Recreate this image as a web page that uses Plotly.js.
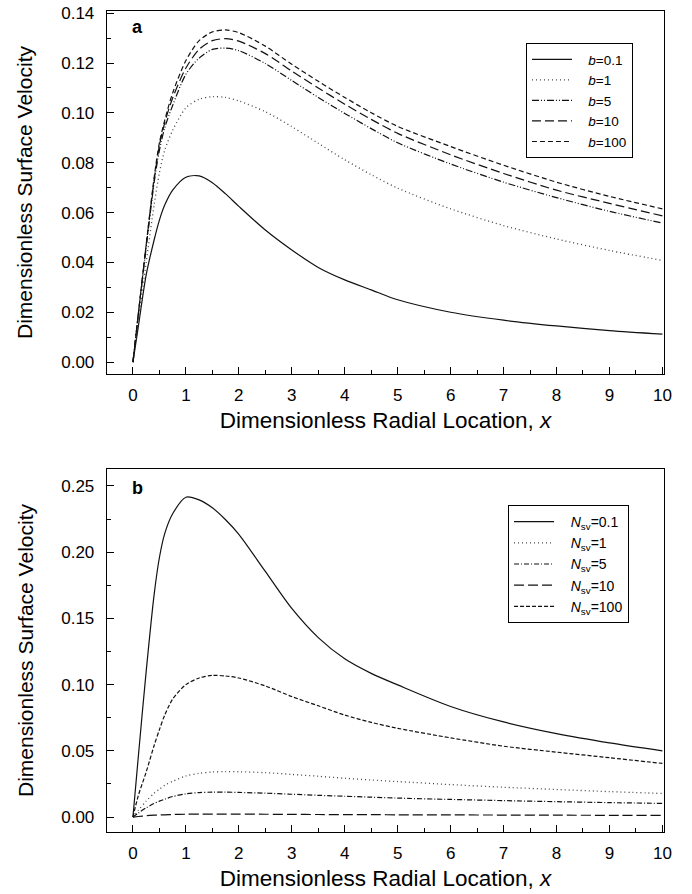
<!DOCTYPE html>
<html>
<head>
<meta charset="utf-8">
<script src="https://cdn.plot.ly/plotly-3.0.1.min.js"></script>
<style>
  html, body { margin: 0; padding: 0; background: #fff; }
  #chart { width: 692px; height: 894px; }
</style>
</head>
<body>
<div id="chart"></div>
<script>
// Radial positions shared by all curves
const xPos = [0, 0.1, 0.25, 0.4, 0.5, 0.6, 0.75, 1, 1.25, 1.5, 1.75, 2, 2.5, 3, 3.5, 4, 4.5, 5, 6, 7, 8, 9, 10];

// Panel a: surface velocity for several values of b
const aLabels = ['0.1', '1', '5', '10', '100'];
const aB01  = [0, 0.014, 0.035, 0.049, 0.057, 0.063, 0.069, 0.0742, 0.0747, 0.072, 0.0675, 0.0625, 0.053, 0.045, 0.038, 0.033, 0.029, 0.025, 0.020, 0.0168, 0.0145, 0.0126, 0.0112];
const aB1   = [0, 0.016, 0.040, 0.063, 0.076, 0.085, 0.093, 0.102, 0.1055, 0.1065, 0.1062, 0.1048, 0.1005, 0.0945, 0.0878, 0.0812, 0.0752, 0.0698, 0.0615, 0.0548, 0.0494, 0.0448, 0.0408];
const aB5   = [0, 0.019, 0.046, 0.072, 0.085, 0.094, 0.103, 0.1155, 0.122, 0.1255, 0.126, 0.125, 0.1198, 0.1130, 0.1062, 0.0998, 0.0937, 0.0880, 0.0795, 0.0722, 0.066, 0.0605, 0.0558];
const aB10  = [0, 0.019, 0.047, 0.073, 0.087, 0.096, 0.106, 0.118, 0.1255, 0.129, 0.1298, 0.1288, 0.1238, 0.1168, 0.1100, 0.1035, 0.0974, 0.0918, 0.0832, 0.0757, 0.069, 0.0637, 0.0587];
const aB100 = [0, 0.019, 0.047, 0.074, 0.088, 0.097, 0.108, 0.121, 0.129, 0.1325, 0.1333, 0.1322, 0.1268, 0.1195, 0.1127, 0.1062, 0.1001, 0.0946, 0.0865, 0.079, 0.0722, 0.0665, 0.0615];

// Panel b: surface velocity for several values of N_sv
const bLabels = ['0.1', '1', '5', '10', '100'];
const bN01  = [0, 0.045, 0.11, 0.168, 0.196, 0.214, 0.229, 0.2415, 0.2395, 0.2335, 0.2245, 0.2135, 0.1855, 0.1575, 0.1355, 0.1195, 0.1085, 0.0998, 0.0835, 0.0718, 0.063, 0.056, 0.050];
const bN1   = [0, 0.005, 0.012, 0.018, 0.021, 0.024, 0.027, 0.031, 0.033, 0.034, 0.0343, 0.0342, 0.0335, 0.0322, 0.0308, 0.0293, 0.028, 0.0268, 0.0245, 0.0225, 0.0208, 0.0192, 0.0178];
const bN5   = [0, 0.003, 0.007, 0.0102, 0.012, 0.0135, 0.0155, 0.0175, 0.0185, 0.0188, 0.0188, 0.0186, 0.018, 0.0172, 0.0164, 0.0157, 0.015, 0.0143, 0.0133, 0.0124, 0.0116, 0.0109, 0.0103];
const bN10  = [0, 0.0004, 0.001, 0.0014, 0.0016, 0.0017, 0.0019, 0.0021, 0.0022, 0.0022, 0.0022, 0.0022, 0.0021, 0.0020, 0.0019, 0.0018, 0.0018, 0.0017, 0.0016, 0.0015, 0.0014, 0.0013, 0.0012];
const bN100 = [0, 0.016, 0.034, 0.054, 0.066, 0.077, 0.089, 0.100, 0.105, 0.107, 0.1065, 0.105, 0.099, 0.091, 0.084, 0.077, 0.0715, 0.067, 0.0598, 0.0535, 0.049, 0.0448, 0.0405];

const FONT = 'Liberation Sans, Arial, Helvetica, sans-serif';
const GAP = '\u00a0\u00a0\u00a0';   // space between legend line sample and its label

// Dash patterns for the five curves of each panel
const aDash = ['solid', '1px,3px', '7px,2px,1px,2px,1px,2px', '9px,4px', '5px,3px'];
const bDash = ['solid', '1px,3px', '5px,2px,1px,2px', '10px,4px', '4px,2px'];

function curve(y, dash, name, xa, ya, legend) {
  const dotted = dash === '1px,3px';
  return {
    x: xPos, y: y, type: 'scatter', mode: 'lines', name: name,
    xaxis: xa, yaxis: ya, legend: legend,
    line: { color: dotted ? '#444' : '#111', width: dotted ? 1.3 : 1.2,
            dash: dash, shape: 'spline', smoothing: 0.8 }
  };
}

const aSeries = [aB01, aB1, aB5, aB10, aB100];
const bSeries = [bN01, bN1, bN5, bN10, bN100];
const traces = [];
aSeries.forEach((s, i) => traces.push(curve(s, aDash[i], GAP + '<i>b</i>=' + aLabels[i], 'x', 'y', 'legend')));
bSeries.forEach((s, i) => traces.push(curve(s, bDash[i], GAP + '<i>N</i><sub>sv</sub>=' + bLabels[i], 'x2', 'y2', 'legend2')));

function xAxis(anchor) {
  return {
    anchor: anchor, range: [-0.49, 10.03], tickvals: [0,1,2,3,4,5,6,7,8,9,10],
    ticks: 'inside', ticklen: 7, tickwidth: 1, tickcolor: '#000',
    minor: { dtick: 0.5, tick0: 0, ticks: 'inside', ticklen: 4, tickcolor: '#000' },
    showline: true, linecolor: '#000', linewidth: 1.3, mirror: true,
    showgrid: false, zeroline: false, ticklabelstandoff: 5,
    tickfont: { family: FONT, size: 17, color: '#000' },
    title: { text: 'Dimensionless Radial Location, <i>x</i>', standoff: 8,
             font: { family: FONT, size: 22.5, color: '#000' } }
  };
}
function yAxis(anchor, domain, range, dtick) {
  return {
    anchor: anchor, domain: domain, range: range, dtick: dtick, tick0: 0, tickformat: '.2f',
    ticks: 'inside', ticklen: 7, tickwidth: 1, tickcolor: '#000',
    minor: { dtick: dtick / 2, tick0: 0, ticks: 'inside', ticklen: 4, tickcolor: '#000' },
    showline: true, linecolor: '#000', linewidth: 1.3, mirror: true,
    showgrid: false, zeroline: false, ticklabelstandoff: 8,
    tickfont: { family: FONT, size: 17, color: '#000' },
    title: { text: 'Dimensionless Surface Velocity', standoff: 22,
             font: { family: FONT, size: 21, color: '#000' } }
  };
}

function legendStyle(size) {
  return {
    bgcolor: '#fff', bordercolor: '#000', borderwidth: 1,
    font: { family: FONT, size: size, color: '#000' },
    xanchor: 'left', yanchor: 'top', tracegroupgap: 0, itemwidth: 40
  };
}

const layout = {
  width: 692, height: 894,
  margin: { l: 107, r: 28, t: 11, b: 62 },
  paper_bgcolor: '#fff', plot_bgcolor: '#fff',
  showlegend: true,
  xaxis: xAxis('y'),
  yaxis: yAxis('x', [0.5578, 1], [-0.0048, 0.1409], 0.02),
  xaxis2: xAxis('y2'),
  yaxis2: yAxis('x2', [0, 0.4421], [-0.0113, 0.2628], 0.05),
  legend: Object.assign({ x: 0.7522, y: 0.961 }, legendStyle(13.5)),
  legend2: Object.assign({ x: 0.72, y: 0.3983 }, legendStyle(14)),
  annotations: [
    { text: '<b>a</b>', xref: 'paper', yref: 'paper', x: 0.054, y: 0.9805,
      xanchor: 'center', yanchor: 'middle', showarrow: false,
      font: { family: FONT, size: 18, color: '#000' } },
    { text: '<b>b</b>', xref: 'paper', yref: 'paper', x: 0.054, y: 0.419,
      xanchor: 'center', yanchor: 'middle', showarrow: false,
      font: { family: FONT, size: 18, color: '#000' } }
  ]
};

Plotly.newPlot('chart', traces, layout, { staticPlot: true, displayModeBar: false });
</script>
</body>
</html>
